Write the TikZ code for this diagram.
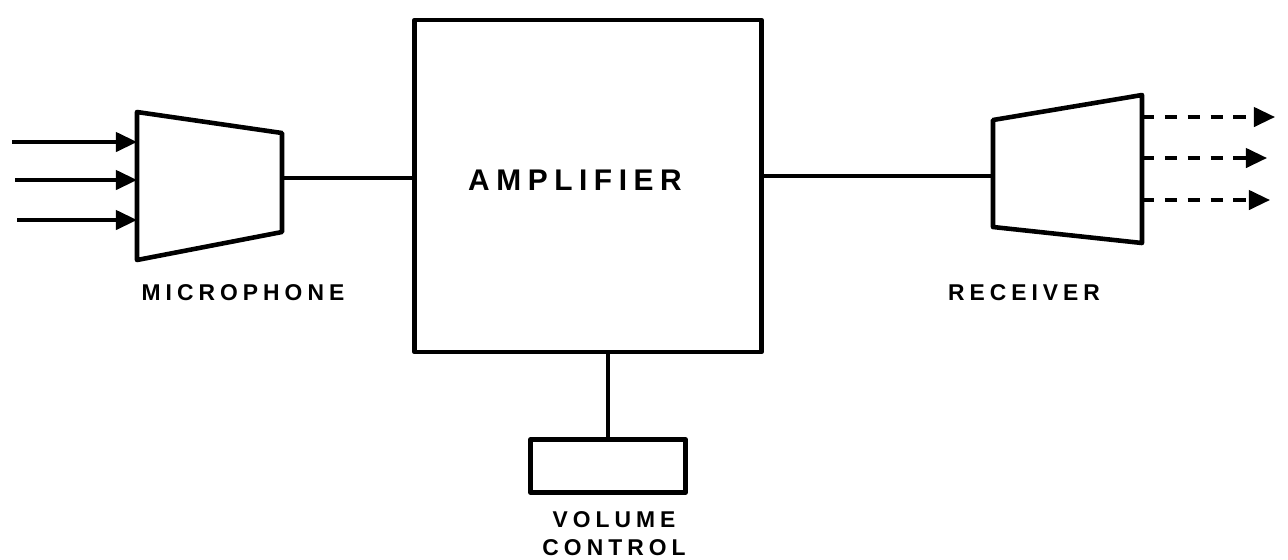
\documentclass[tikz,border=0pt]{standalone}
\usepackage{fontspec}
\setmainfont{Liberation Sans}
\newfontfamily\handfont[LetterSpace=22]{Liberation Sans}
\usetikzlibrary{arrows.meta}

\begin{document}
\begin{tikzpicture}[
    x=0.02cm, y=-0.02cm,
    >={Triangle[length=12pt,width=11pt]},
    part/.style={draw,line width=2.6pt,line join=round},
    block/.style={part,inner sep=0pt},
    wire/.style={line width=1.9pt},
    sound/.style={->,line width=1.9pt},
    wave/.style={->,line width=1.9pt,dash pattern=on 7pt off 6pt},
    caption/.style={font=\handfont\bfseries\fontsize{13pt}{15pt}\selectfont},
  ]
  \useasboundingbox (0,0) rectangle (1288,559);

  % --- microphone (trapezium, wide side facing the incoming sound) ---
  \coordinate (m1) at (137,112);
  \coordinate (m2) at (282,133);
  \coordinate (m3) at (282,232);
  \coordinate (m4) at (137,260);
  \draw[part] (m1) -- (m2) -- (m3) -- (m4) -- cycle;
  \coordinate (micout) at (282,178);
  \node[caption] (miclabel) at (243,293) {MICROPHONE};

  % --- amplifier ---
  \node[block,minimum width=6.94cm,minimum height=6.64cm] (amp) at (588,186) {};
  \node[font=\handfont\bfseries\fontsize{17pt}{19pt}\selectfont] (amplabel) at (575,180) {AMPLIFIER};

  % --- receiver (trapezium, wide side facing outwards) ---
  \coordinate (r1) at (993,120);
  \coordinate (r2) at (1142,95);
  \coordinate (r3) at (1142,243);
  \coordinate (r4) at (993,227);
  \draw[part] (r1) -- (r2) -- (r3) -- (r4) -- cycle;
  \coordinate (recin) at (993,176);
  \node[caption] (reclabel) at (1024,293) {RECEIVER};

  % --- volume control ---
  \node[block,minimum width=3.1cm,minimum height=1.06cm] (vol) at (608,466) {};
  \node[caption,align=center] (vollabel) at (614,534) {VOLUME\\[1pt]CONTROL};

  % --- incoming sound ---
  \foreach \y/\x in {142/12,180/15,220/17} {
    \coordinate (in\y) at (\x,\y);
    \draw[sound] (in\y) -- (in\y -| m1);
  }

  % --- wiring ---
  \draw[wire] (micout) -- (micout -| amp.west);
  \draw[wire] (recin -| amp.east) -- (recin);
  \draw[wire] (vol.north) -- (vol.north |- amp.south);

  % --- outgoing sound ---
  \foreach \y/\x in {117/1275,158/1267,200/1270} {
    \coordinate (out\y) at (\x,\y);
    \draw[wave] (out\y -| r2) -- (out\y);
  }
\end{tikzpicture}
\end{document}
